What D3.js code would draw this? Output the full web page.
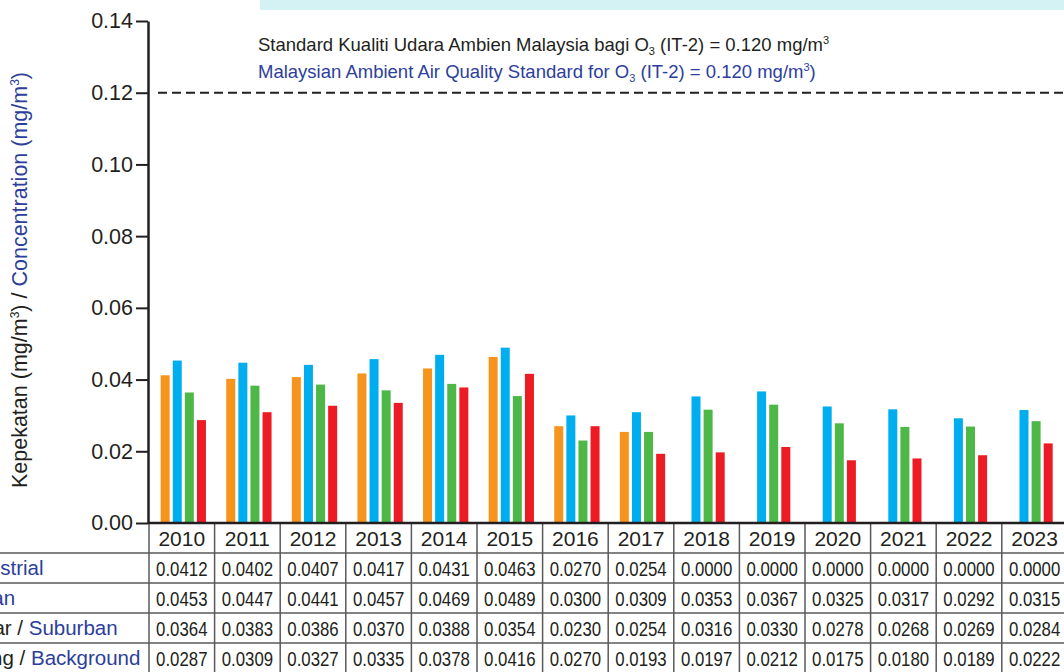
<!DOCTYPE html>
<html>
<head>
<meta charset="utf-8">
<script src="https://cdn.jsdelivr.net/npm/d3@7"></script>
<style>
  body { margin: 0; background: #fff; }
  svg { display: block; font-family: "Liberation Sans", Arial, sans-serif; }
</style>
</head>
<body>
<div id="chart"></div>
<script>
// data
const years = ["2010", "2011", "2012", "2013", "2014", "2015", "2016", "2017", "2018", "2019", "2020", "2021", "2022", "2023"];
const seriesKeys = ["industrial", "urban", "suburban", "background"];
const seriesMalay = ["Industri", "Bandar", "Pinggir Bandar", "Latar Belakang"];
const seriesEnglish = ["Industrial", "Urban", "Suburban", "Background"];
const industrial = [0.0412, 0.0402, 0.0407, 0.0417, 0.0431, 0.0463, 0.0270, 0.0254, 0.0000, 0.0000, 0.0000, 0.0000, 0.0000, 0.0000];
const urban = [0.0453, 0.0447, 0.0441, 0.0457, 0.0469, 0.0489, 0.0300, 0.0309, 0.0353, 0.0367, 0.0325, 0.0317, 0.0292, 0.0315];
const suburban = [0.0364, 0.0383, 0.0386, 0.0370, 0.0388, 0.0354, 0.0230, 0.0254, 0.0316, 0.0330, 0.0278, 0.0268, 0.0269, 0.0284];
const background = [0.0287, 0.0309, 0.0327, 0.0335, 0.0378, 0.0416, 0.0270, 0.0193, 0.0197, 0.0212, 0.0175, 0.0180, 0.0189, 0.0222];
const yTicks = [0, 0.02, 0.04, 0.06, 0.08, 0.10, 0.12, 0.14];
const standardValue = 0.12;

const seriesValues = { industrial, urban, suburban, background };
const colors = d3.scaleOrdinal().domain(seriesKeys).range(["#F7941D", "#00AEEF", "#4DB848", "#ED1C24"]);
const blueText = "#2D3E9B";
const darkText = "#231F20";

const W = 1064, H = 672;
const svg = d3.select("#chart").append("svg")
    .attr("width", W)
    .attr("height", H);

// light band at the top
svg.append("rect")
    .attr("x", 260).attr("y", 0)
    .attr("width", W - 260).attr("height", 10)
    .attr("fill", "#D4F1F4");

// scales
const plotLeft = 148, plotTop = 21, plotBottom = 523;
const y = d3.scaleLinear().domain([0, 0.14]).range([plotBottom, plotTop]);
const colW = 65.6;
const x = d3.scaleBand().domain(years).range([149, 149 + colW * years.length]).padding(0);
const barStep = 12.1, barW = 9;

// rows of the table under the axis
const rows = d3.scaleBand().domain(["year"].concat(seriesKeys)).range([523, 673]);

// dashed standard line
svg.append("line")
    .attr("x1", plotLeft + 10).attr("x2", W)
    .attr("y1", y(standardValue)).attr("y2", y(standardValue))
    .attr("stroke", "#231F20")
    .attr("stroke-width", 2)
    .attr("stroke-dasharray", "9,5");

// annotation
const note = svg.append("g").attr("font-size", "18.5px");
const line1 = note.append("text").attr("x", 258).attr("y", 51).attr("fill", darkText);
line1.append("tspan").text("Standard Kualiti Udara Ambien Malaysia bagi O");
line1.append("tspan").attr("font-size", "11px").attr("dy", 4).text("3");
line1.append("tspan").attr("dy", -4).text(" (IT-2) = 0.120 mg/m");
line1.append("tspan").attr("font-size", "11px").attr("dy", -7).text("3");
const line2 = note.append("text").attr("x", 258).attr("y", 78).attr("fill", blueText);
line2.append("tspan").text("Malaysian Ambient Air Quality Standard for O");
line2.append("tspan").attr("font-size", "11px").attr("dy", 4).text("3");
line2.append("tspan").attr("dy", -4).text(" (IT-2) = 0.120 mg/m");
line2.append("tspan").attr("font-size", "11px").attr("dy", -7).text("3");
line2.append("tspan").attr("dy", 7).text(")");

// bars - zero values are left out and the rest centred in the year
years.forEach((yr, i) => {
    const present = seriesKeys.filter(k => seriesValues[k][i] > 0);
    const cx = x(yr) + x.bandwidth() / 2 + 1.5;
    const inner = d3.scaleBand()
        .domain(present)
        .range([cx - present.length * barStep / 2, cx + present.length * barStep / 2])
        .paddingInner((barStep - barW) / barStep)
        .paddingOuter((barStep - barW) / barStep / 2);
    svg.selectAll(null)
        .data(present)
        .enter().append("rect")
        .attr("x", k => inner(k))
        .attr("y", k => y(seriesValues[k][i]))
        .attr("width", inner.bandwidth())
        .attr("height", k => y(0) - y(seriesValues[k][i]))
        .attr("fill", k => colors(k));
});

// Y axis
const yAxis = svg.append("g")
    .attr("transform", `translate(${plotLeft},0)`)
    .call(d3.axisLeft(y).tickValues(yTicks).tickFormat(d3.format(".2f")).tickSize(12).tickSizeOuter(0).tickPadding(3));
yAxis.select(".domain").attr("stroke", darkText).attr("stroke-width", 2.5);
yAxis.selectAll(".tick line").attr("stroke", darkText).attr("stroke-width", 2);
yAxis.selectAll(".tick text").attr("fill", darkText).attr("font-size", "21.5px").attr("font-family", "Liberation Sans, Arial, sans-serif");

// Y axis title
const yTitle = svg.append("text")
    .attr("transform", "translate(27,280) rotate(-90)")
    .attr("text-anchor", "middle")
    .attr("font-size", "21.5px")
    .attr("fill", darkText);
yTitle.append("tspan").text("Kepekatan (mg/m");
yTitle.append("tspan").attr("font-size", "12px").attr("dy", -8).text("3");
yTitle.append("tspan").attr("dy", 8).text(") / ");
yTitle.append("tspan").attr("fill", blueText).text("Concentration (mg/m");
yTitle.append("tspan").attr("fill", blueText).attr("font-size", "12px").attr("dy", -8).text("3");
yTitle.append("tspan").attr("fill", blueText).attr("dy", 8).text(")");

// table grid
const gridColor = "#5a5a5a";
const table = svg.append("g");
seriesKeys.forEach(k => {
    table.append("line")
        .attr("x1", 0).attr("x2", W)
        .attr("y1", rows(k)).attr("y2", rows(k))
        .attr("stroke", gridColor).attr("stroke-width", 1.5);
});
years.forEach(yr => {
    table.append("line")
        .attr("x1", x(yr)).attr("x2", x(yr))
        .attr("y1", rows("year")).attr("y2", H)
        .attr("stroke", gridColor).attr("stroke-width", 1.5);
});

// year labels
table.selectAll(".year")
    .data(years)
    .enter().append("text")
    .attr("class", "year")
    .attr("x", d => x(d) + x.bandwidth() / 2)
    .attr("y", rows("year") + rows.bandwidth() / 2 + 7.5)
    .attr("text-anchor", "middle")
    .attr("font-size", "21px")
    .attr("fill", darkText)
    .text(d => d);

// values, in a narrow face
seriesKeys.forEach(k => {
    table.selectAll(null)
        .data(seriesValues[k])
        .enter().append("text")
        .attr("transform", (d, i) => `translate(${x(years[i]) + x.bandwidth() / 2},${rows(k) + rows.bandwidth() / 2 + 7.5}) scale(0.8,1)`)
        .attr("text-anchor", "middle")
        .attr("font-size", "21px")
        .attr("fill", darkText)
        .text(d => d3.format(".4f")(d));
});

// row labels (cut at the left edge)
seriesKeys.forEach((k, i) => {
    const t = table.append("text")
        .attr("x", -124)
        .attr("y", rows(k) + rows.bandwidth() / 2 + 7)
        .attr("font-size", "20.5px")
        .attr("fill", darkText);
    t.append("tspan").text(seriesMalay[i] + " / ");
    t.append("tspan").attr("fill", blueText).text(seriesEnglish[i]);
});

// x axis line on top of table
svg.append("line")
    .attr("x1", plotLeft).attr("x2", W)
    .attr("y1", y(0)).attr("y2", y(0))
    .attr("stroke", darkText)
    .attr("stroke-width", 2.5);
</script>
</body>
</html>
